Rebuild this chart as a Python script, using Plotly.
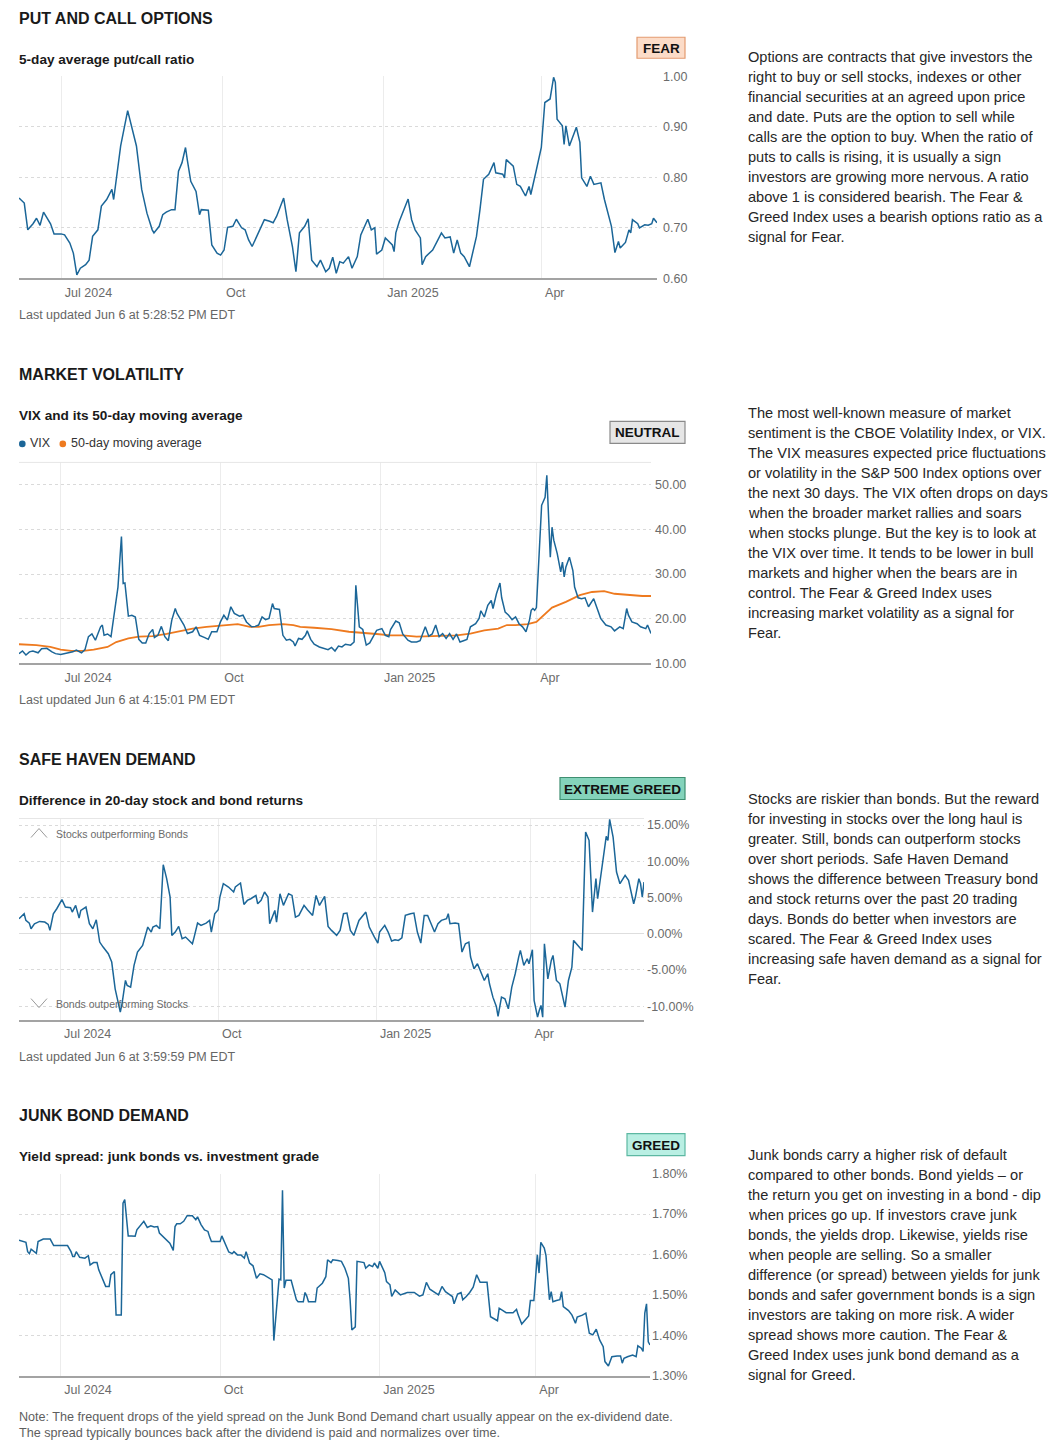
import plotly.graph_objects as go

W, H = 1057, 1451
FONT = "Liberation Sans, Arial, Helvetica, sans-serif"
BLUE = "#1b6698"
ORANGE = "#ee7a1f"

# ---------------- DATA ----------------
tick_dates = ["2024-07-01", "2024-10-01", "2025-01-01", "2025-04-01"]
tick_labels = ["Jul 2024", "Oct", "Jan 2025", "Apr"]
x_range = ["2024-06-07", "2025-06-06"]

pc_tickvals = [0.6, 0.7, 0.8, 0.9, 1.0]
pc_ticktext = ["0.60", "0.70", "0.80", "0.90", "1.00"]
vix_tickvals = [10, 20, 30, 40, 50]
vix_ticktext = ["10.00", "20.00", "30.00", "40.00", "50.00"]
sh_tickvals = [-10, -5, 0, 5, 10, 15]
sh_ticktext = ["-10.00%", "-5.00%", "0.00%", "5.00%", "10.00%", "15.00%"]
jb_tickvals = [1.3, 1.4, 1.5, 1.6, 1.7, 1.8]
jb_ticktext = ["1.30%", "1.40%", "1.50%", "1.60%", "1.70%", "1.80%"]

put_call = [("2024-06-07",0.759),("2024-06-10",0.749),("2024-06-12",0.696),("2024-06-15",0.708),("2024-06-17",0.719),("2024-06-19",0.705),("2024-06-21",0.731),("2024-06-23",0.719),("2024-06-25",0.708),("2024-06-27",0.688),("2024-07-01",0.688),("2024-07-03",0.686),("2024-07-06",0.670),("2024-07-08",0.650),("2024-07-10",0.607),("2024-07-12",0.620),("2024-07-15",0.627),("2024-07-17",0.636),("2024-07-19",0.683),("2024-07-22",0.696),("2024-07-24",0.743),("2024-07-27",0.756),("2024-07-30",0.776),("2024-07-31",0.756),("2024-08-02",0.809),("2024-08-04",0.862),("2024-08-08",0.932),("2024-08-10",0.902),("2024-08-13",0.862),("2024-08-16",0.776),("2024-08-19",0.729),("2024-08-22",0.696),("2024-08-23",0.690),("2024-08-26",0.703),("2024-08-28",0.726),("2024-08-30",0.731),("2024-09-02",0.736),("2024-09-04",0.736),("2024-09-06",0.812),("2024-09-08",0.829),("2024-09-10",0.859),("2024-09-11",0.835),("2024-09-13",0.792),("2024-09-16",0.772),("2024-09-18",0.726),("2024-09-19",0.736),("2024-09-23",0.735),("2024-09-25",0.666),("2024-09-28",0.650),("2024-09-30",0.646),("2024-10-02",0.656),("2024-10-04",0.701),("2024-10-07",0.703),("2024-10-09",0.717),("2024-10-12",0.700),("2024-10-14",0.696),("2024-10-16",0.676),("2024-10-18",0.663),("2024-10-21",0.686),("2024-10-23",0.700),("2024-10-25",0.716),("2024-10-28",0.713),("2024-10-30",0.710),("2024-11-01",0.723),("2024-11-05",0.759),("2024-11-07",0.716),("2024-11-10",0.663),("2024-11-12",0.613),("2024-11-14",0.690),("2024-11-17",0.703),("2024-11-19",0.718),("2024-11-21",0.636),("2024-11-24",0.623),("2024-11-26",0.636),("2024-11-29",0.613),("2024-12-01",0.620),("2024-12-03",0.642),("2024-12-05",0.610),("2024-12-07",0.633),("2024-12-09",0.630),("2024-12-12",0.643),("2024-12-14",0.620),("2024-12-17",0.643),("2024-12-19",0.686),("2024-12-21",0.703),("2024-12-23",0.717),("2024-12-25",0.696),("2024-12-27",0.700),("2024-12-28",0.648),("2024-12-31",0.656),("2025-01-02",0.680),("2025-01-06",0.666),("2025-01-07",0.653),("2025-01-08",0.690),("2025-01-10",0.713),("2025-01-13",0.739),("2025-01-15",0.757),("2025-01-17",0.716),("2025-01-19",0.696),("2025-01-22",0.680),("2025-01-23",0.627),("2025-01-25",0.643),("2025-01-27",0.650),("2025-01-29",0.656),("2025-02-01",0.676),("2025-02-03",0.690),("2025-02-05",0.680),("2025-02-08",0.682),("2025-02-10",0.650),("2025-02-12",0.676),("2025-02-14",0.650),("2025-02-16",0.643),("2025-02-19",0.623),("2025-02-21",0.650),("2025-02-23",0.683),("2025-02-25",0.736),("2025-02-27",0.796),("2025-03-02",0.806),("2025-03-05",0.829),("2025-03-06",0.809),("2025-03-10",0.806),("2025-03-11",0.799),("2025-03-12",0.835),("2025-03-16",0.822),("2025-03-18",0.786),("2025-03-20",0.782),("2025-03-23",0.763),("2025-03-25",0.782),("2025-03-26",0.766),("2025-03-29",0.812),("2025-04-01",0.859),("2025-04-03",0.948),("2025-04-06",0.955),("2025-04-08",0.998),("2025-04-09",0.988),("2025-04-10",0.915),("2025-04-13",0.902),("2025-04-14",0.865),("2025-04-15",0.902),("2025-04-17",0.862),("2025-04-21",0.899),("2025-04-23",0.869),("2025-04-24",0.799),("2025-04-27",0.782),("2025-04-29",0.802),("2025-05-01",0.786),("2025-05-05",0.789),("2025-05-07",0.756),("2025-05-09",0.729),("2025-05-11",0.703),("2025-05-13",0.651),("2025-05-15",0.673),("2025-05-16",0.660),("2025-05-19",0.671),("2025-05-21",0.696),("2025-05-22",0.690),("2025-05-23",0.716),("2025-05-26",0.708),("2025-05-27",0.700),("2025-05-30",0.706),("2025-06-01",0.705),("2025-06-03",0.708),("2025-06-04",0.719),("2025-06-06",0.710)]

vix = [("2024-06-07",12.2),("2024-06-09",12.8),("2024-06-11",11.9),("2024-06-13",12.6),("2024-06-15",12.8),("2024-06-18",12.4),("2024-06-20",13.3),("2024-06-23",13.4),("2024-06-26",12.6),("2024-06-28",12.2),("2024-07-01",12.0),("2024-07-05",12.4),("2024-07-08",12.6),("2024-07-10",13.0),("2024-07-13",12.4),("2024-07-15",13.1),("2024-07-17",16.0),("2024-07-19",16.6),("2024-07-21",15.2),("2024-07-24",18.2),("2024-07-25",18.6),("2024-07-26",16.3),("2024-07-28",16.6),("2024-07-30",16.0),("2024-08-01",21.2),("2024-08-03",27.1),("2024-08-05",38.4),("2024-08-06",27.9),("2024-08-07",28.0),("2024-08-09",20.6),("2024-08-11",20.8),("2024-08-13",20.4),("2024-08-15",15.4),("2024-08-17",14.6),("2024-08-19",14.6),("2024-08-21",16.7),("2024-08-23",17.6),("2024-08-24",15.8),("2024-08-26",16.3),("2024-08-28",18.3),("2024-08-30",16.0),("2024-09-01",15.1),("2024-09-03",19.7),("2024-09-05",22.3),("2024-09-06",21.2),("2024-09-08",19.8),("2024-09-10",18.6),("2024-09-12",16.7),("2024-09-15",17.1),("2024-09-17",18.2),("2024-09-19",16.3),("2024-09-22",15.8),("2024-09-24",15.4),("2024-09-26",17.1),("2024-09-29",17.1),("2024-10-01",19.3),("2024-10-03",20.8),("2024-10-05",19.7),("2024-10-07",22.7),("2024-10-09",21.2),("2024-10-12",20.6),("2024-10-14",20.8),("2024-10-16",19.3),("2024-10-19",18.2),("2024-10-21",18.3),("2024-10-23",18.6),("2024-10-25",20.4),("2024-10-27",19.8),("2024-10-29",20.1),("2024-10-31",23.4),("2024-11-01",22.3),("2024-11-04",22.1),("2024-11-06",16.3),("2024-11-08",15.2),("2024-11-10",15.4),("2024-11-12",14.8),("2024-11-13",13.9),("2024-11-15",15.6),("2024-11-17",15.4),("2024-11-19",16.3),("2024-11-20",17.3),("2024-11-22",15.4),("2024-11-24",14.3),("2024-11-27",13.7),("2024-11-29",13.4),("2024-12-02",13.1),("2024-12-04",13.6),("2024-12-06",12.8),("2024-12-08",13.9),("2024-12-10",13.7),("2024-12-12",14.3),("2024-12-15",14.1),("2024-12-17",14.8),("2024-12-18",27.5),("2024-12-20",18.2),("2024-12-22",17.6),("2024-12-24",14.1),("2024-12-26",14.6),("2024-12-28",16.0),("2024-12-30",17.4),("2025-01-02",17.8),("2025-01-04",16.3),("2025-01-06",16.0),("2025-01-07",17.6),("2025-01-10",19.5),("2025-01-12",19.1),("2025-01-14",16.6),("2025-01-17",15.2),("2025-01-19",14.8),("2025-01-22",14.8),("2025-01-24",15.1),("2025-01-27",18.2),("2025-01-29",16.1),("2025-01-31",16.6),("2025-02-02",18.6),("2025-02-04",16.0),("2025-02-06",16.7),("2025-02-08",15.6),("2025-02-10",16.7),("2025-02-12",15.4),("2025-02-14",16.6),("2025-02-16",14.8),("2025-02-18",15.1),("2025-02-20",15.4),("2025-02-22",18.2),("2025-02-25",18.9),("2025-02-27",20.1),("2025-02-28",21.8),("2025-03-02",20.4),("2025-03-04",23.0),("2025-03-06",24.1),("2025-03-07",22.3),("2025-03-09",25.6),("2025-03-11",28.0),("2025-03-12",24.7),("2025-03-14",21.5),("2025-03-16",20.8),("2025-03-18",19.8),("2025-03-20",20.4),("2025-03-22",18.9),("2025-03-24",18.2),("2025-03-26",17.1),("2025-03-28",19.7),("2025-03-29",21.9),("2025-03-30",22.3),("2025-03-31",21.9),("2025-04-01",22.5),("2025-04-04",45.4),("2025-04-06",47.2),("2025-04-07",52.1),("2025-04-09",33.8),("2025-04-10",40.5),("2025-04-11",37.6),("2025-04-13",34.6),("2025-04-15",30.5),("2025-04-16",32.7),("2025-04-17",29.4),("2025-04-18",31.6),("2025-04-20",33.8),("2025-04-22",30.8),("2025-04-23",27.1),("2025-04-25",24.7),("2025-04-27",24.5),("2025-04-29",24.7),("2025-05-01",22.7),("2025-05-04",24.5),("2025-05-06",22.3),("2025-05-08",20.1),("2025-05-11",18.6),("2025-05-14",18.2),("2025-05-16",17.3),("2025-05-19",18.2),("2025-05-21",17.8),("2025-05-23",22.3),("2025-05-24",20.8),("2025-05-26",19.3),("2025-05-29",18.9),("2025-05-31",18.2),("2025-06-03",17.8),("2025-06-04",18.6),("2025-06-06",16.7)]

vix_ma50 = [("2024-06-07",14.3),("2024-06-17",14.1),("2024-06-25",13.7),("2024-07-01",13.1),("2024-07-07",12.8),("2024-07-14",12.8),("2024-07-20",13.1),("2024-07-28",13.7),("2024-08-02",14.8),("2024-08-09",15.6),("2024-08-15",16.0),("2024-08-23",16.1),("2024-08-31",16.6),("2024-09-08",17.3),("2024-09-15",17.8),("2024-09-23",18.2),("2024-10-01",18.4),("2024-10-11",18.8),("2024-10-18",18.2),("2024-10-23",18.2),("2024-10-29",18.6),("2024-11-06",18.8),("2024-11-12",18.6),("2024-11-16",18.2),("2024-11-24",18.0),("2024-12-04",17.7),("2024-12-14",17.1),("2024-12-22",16.9),("2024-12-30",16.6),("2025-01-07",16.3),("2025-01-14",16.3),("2025-01-22",16.0),("2025-01-30",16.1),("2025-02-07",16.2),("2025-02-14",16.3),("2025-02-22",16.7),("2025-03-02",17.4),("2025-03-10",17.8),("2025-03-15",18.6),("2025-03-20",18.6),("2025-03-27",18.8),("2025-04-01",19.3),("2025-04-05",20.8),("2025-04-10",22.5),("2025-04-18",23.8),("2025-04-26",25.3),("2025-05-03",26.0),("2025-05-10",26.2),("2025-05-16",25.6),("2025-05-24",25.3),("2025-06-01",25.1),("2025-06-06",25.1)]

safe_haven = [("2024-06-07",2.07),("2024-06-10",2.76),("2024-06-11",1.84),("2024-06-13",1.47),("2024-06-14",0.69),("2024-06-16",1.38),("2024-06-19",1.70),("2024-06-22",1.61),("2024-06-24",1.29),("2024-06-25",0.46),("2024-06-27",2.76),("2024-06-29",3.45),("2024-07-02",4.70),("2024-07-04",3.68),("2024-07-07",3.59),("2024-07-08",2.99),("2024-07-10",3.91),("2024-07-12",2.16),("2024-07-13",3.22),("2024-07-16",3.68),("2024-07-18",1.38),("2024-07-20",0.69),("2024-07-22",1.93),("2024-07-24",-1.15),("2024-07-26",-1.84),("2024-07-29",-2.76),("2024-07-31",-3.91),("2024-08-02",-7.60),("2024-08-05",-10.82),("2024-08-06",-9.67),("2024-08-08",-6.45),("2024-08-09",-7.14),("2024-08-11",-7.37),("2024-08-13",-4.37),("2024-08-15",-2.53),("2024-08-18",-1.61),("2024-08-21",0.92),("2024-08-23",0.23),("2024-08-24",0.92),("2024-08-26",1.15),("2024-08-28",0.69),("2024-08-30",9.53),("2024-09-01",7.60),("2024-09-03",5.06),("2024-09-04",-0.23),("2024-09-06",0.23),("2024-09-08",1.01),("2024-09-10",-0.69),("2024-09-12",-0.46),("2024-09-14",-0.92),("2024-09-16",-1.38),("2024-09-17",-0.46),("2024-09-19",1.47),("2024-09-21",1.15),("2024-09-24",1.47),("2024-09-26",1.84),("2024-09-27",0.23),("2024-09-29",2.76),("2024-10-01",3.31),("2024-10-02",5.06),("2024-10-04",6.91),("2024-10-07",6.45),("2024-10-10",5.76),("2024-10-11",6.45),("2024-10-14",7.00),("2024-10-16",4.05),("2024-10-18",4.60),("2024-10-20",4.83),("2024-10-23",5.29),("2024-10-24",4.14),("2024-10-26",4.60),("2024-10-28",5.76),("2024-10-30",5.06),("2024-10-31",1.38),("2024-11-03",3.22),("2024-11-04",1.61),("2024-11-06",5.52),("2024-11-08",3.91),("2024-11-11",5.52),("2024-11-13",5.29),("2024-11-15",2.30),("2024-11-17",2.53),("2024-11-20",3.91),("2024-11-22",3.31),("2024-11-25",2.53),("2024-11-27",5.29),("2024-11-29",3.91),("2024-12-02",5.15),("2024-12-04",1.01),("2024-12-06",0.46),("2024-12-09",-0.23),("2024-12-11",0.46),("2024-12-13",2.76),("2024-12-15",2.85),("2024-12-17",0.46),("2024-12-19",-0.23),("2024-12-22",1.84),("2024-12-26",2.99),("2024-12-28",0.92),("2024-12-31",-0.46),("2025-01-02",-1.29),("2025-01-03",0.23),("2025-01-06",1.15),("2025-01-08",0.23),("2025-01-10",-1.01),("2025-01-12",-0.83),("2025-01-14",-0.92),("2025-01-16",-0.55),("2025-01-18",2.53),("2025-01-21",2.76),("2025-01-23",2.85),("2025-01-25",0.23),("2025-01-27",-1.29),("2025-01-29",2.53),("2025-01-31",2.53),("2025-02-02",1.38),("2025-02-04",0.23),("2025-02-06",1.38),("2025-02-08",1.84),("2025-02-11",2.07),("2025-02-12",2.76),("2025-02-13",1.38),("2025-02-16",1.47),("2025-02-18",1.38),("2025-02-20",-2.53),("2025-02-22",-1.38),("2025-02-24",-1.15),("2025-02-25",-3.22),("2025-02-27",-4.83),("2025-03-01",-4.14),("2025-03-03",-5.29),("2025-03-05",-6.45),("2025-03-07",-5.52),("2025-03-08",-6.91),("2025-03-10",-8.75),("2025-03-12",-10.04),("2025-03-13",-11.42),("2025-03-15",-8.75),("2025-03-17",-8.98),("2025-03-19",-10.36),("2025-03-21",-7.37),("2025-03-23",-5.52),("2025-03-25",-3.22),("2025-03-26",-2.30),("2025-03-28",-4.37),("2025-03-30",-3.45),("2025-03-31",-4.14),("2025-04-02",-2.21),("2025-04-03",-9.21),("2025-04-05",-11.51),("2025-04-06",-10.59),("2025-04-07",-9.90),("2025-04-08",-11.51),("2025-04-09",-1.38),("2025-04-11",-6.22),("2025-04-13",-3.68),("2025-04-14",-2.99),("2025-04-16",-6.45),("2025-04-18",-6.91),("2025-04-21",-10.13),("2025-04-23",-6.45),("2025-04-25",-4.60),("2025-04-26",-0.92),("2025-04-29",-1.84),("2025-05-01",-2.30),("2025-05-03",14.04),("2025-05-05",12.89),("2025-05-07",2.99),("2025-05-09",7.60),("2025-05-10",4.83),("2025-05-13",9.67),("2025-05-15",13.44),("2025-05-16",12.89),("2025-05-17",15.79),("2025-05-19",13.35),("2025-05-21",8.52),("2025-05-23",6.91),("2025-05-26",8.06),("2025-05-28",7.37),("2025-05-31",4.14),("2025-06-01",5.06),("2025-06-03",7.60),("2025-06-04",6.91),("2025-06-05",5.06),("2025-06-06",7.14)]

junk_spread = [("2024-06-07",1.635),("2024-06-10",1.632),("2024-06-11",1.630),("2024-06-12",1.607),("2024-06-13",1.602),("2024-06-14",1.613),("2024-06-16",1.607),("2024-06-17",1.603),("2024-06-18",1.632),("2024-06-21",1.638),("2024-06-25",1.638),("2024-06-27",1.622),("2024-07-01",1.622),("2024-07-05",1.622),("2024-07-07",1.607),("2024-07-08",1.595),("2024-07-09",1.595),("2024-07-10",1.607),("2024-07-12",1.593),("2024-07-15",1.591),("2024-07-17",1.597),("2024-07-18",1.574),("2024-07-20",1.580),("2024-07-22",1.580),("2024-07-23",1.562),("2024-07-25",1.539),("2024-07-27",1.521),("2024-07-29",1.521),("2024-07-30",1.550),("2024-08-01",1.558),("2024-08-02",1.450),("2024-08-05",1.450),("2024-08-06",1.727),("2024-08-07",1.736),("2024-08-09",1.646),("2024-08-11",1.646),("2024-08-13",1.645),("2024-08-14",1.661),("2024-08-16",1.671),("2024-08-18",1.682),("2024-08-20",1.667),("2024-08-22",1.671),("2024-08-24",1.668),("2024-08-26",1.669),("2024-08-27",1.653),("2024-08-29",1.645),("2024-08-31",1.636),("2024-09-02",1.628),("2024-09-04",1.610),("2024-09-05",1.669),("2024-09-06",1.676),("2024-09-08",1.676),("2024-09-10",1.682),("2024-09-12",1.696),("2024-09-15",1.696),("2024-09-17",1.686),("2024-09-18",1.693),("2024-09-20",1.674),("2024-09-22",1.661),("2024-09-24",1.657),("2024-09-25",1.643),("2024-09-26",1.632),("2024-09-28",1.632),("2024-10-01",1.632),("2024-10-02",1.646),("2024-10-04",1.628),("2024-10-06",1.606),("2024-10-08",1.602),("2024-10-09",1.607),("2024-10-11",1.599),("2024-10-13",1.599),("2024-10-15",1.591),("2024-10-16",1.607),("2024-10-18",1.579),("2024-10-20",1.572),("2024-10-22",1.541),("2024-10-24",1.552),("2024-10-26",1.550),("2024-10-29",1.541),("2024-10-31",1.537),("2024-11-01",1.387),("2024-11-04",1.539),("2024-11-05",1.537),("2024-11-06",1.759),("2024-11-07",1.517),("2024-11-08",1.536),("2024-11-11",1.536),("2024-11-14",1.488),("2024-11-15",1.483),("2024-11-18",1.483),("2024-11-19",1.506),("2024-11-20",1.497),("2024-11-21",1.483),("2024-11-25",1.483),("2024-11-26",1.517),("2024-11-29",1.529),("2024-12-01",1.545),("2024-12-02",1.587),("2024-12-04",1.580),("2024-12-05",1.587),("2024-12-08",1.585),("2024-12-10",1.583),("2024-12-12",1.566),("2024-12-14",1.541),("2024-12-15",1.488),("2024-12-16",1.413),("2024-12-18",1.421),("2024-12-19",1.583),("2024-12-23",1.580),("2024-12-24",1.566),("2024-12-26",1.574),("2024-12-28",1.570),("2024-12-29",1.579),("2024-12-31",1.566),("2025-01-01",1.583),("2025-01-04",1.555),("2025-01-05",1.533),("2025-01-07",1.525),("2025-01-08",1.496),("2025-01-10",1.512),("2025-01-13",1.500),("2025-01-17",1.506),("2025-01-21",1.506),("2025-01-24",1.497),("2025-01-26",1.500),("2025-01-28",1.531),("2025-01-30",1.514),("2025-02-01",1.508),("2025-02-04",1.500),("2025-02-06",1.521),("2025-02-08",1.508),("2025-02-10",1.502),("2025-02-12",1.496),("2025-02-13",1.478),("2025-02-15",1.502),("2025-02-17",1.506),("2025-02-18",1.488),("2025-02-20",1.496),("2025-02-22",1.506),("2025-02-24",1.519),("2025-02-26",1.550),("2025-02-28",1.531),("2025-03-04",1.531),("2025-03-06",1.446),("2025-03-08",1.442),("2025-03-10",1.436),("2025-03-11",1.467),("2025-03-15",1.456),("2025-03-19",1.456),("2025-03-21",1.464),("2025-03-22",1.450),("2025-03-24",1.428),("2025-03-26",1.438),("2025-03-28",1.448),("2025-03-29",1.486),("2025-03-31",1.486),("2025-04-02",1.599),("2025-04-03",1.554),("2025-04-04",1.630),("2025-04-06",1.616),("2025-04-07",1.597),("2025-04-09",1.488),("2025-04-10",1.508),("2025-04-11",1.483),("2025-04-13",1.486),("2025-04-15",1.488),("2025-04-16",1.508),("2025-04-17",1.471),("2025-04-20",1.461),("2025-04-22",1.450),("2025-04-24",1.430),("2025-04-25",1.445),("2025-04-28",1.450),("2025-04-30",1.455),("2025-05-02",1.405),("2025-05-04",1.401),("2025-05-06",1.415),("2025-05-08",1.388),("2025-05-10",1.372),("2025-05-11",1.335),("2025-05-13",1.324),("2025-05-15",1.347),("2025-05-18",1.349),("2025-05-20",1.349),("2025-05-21",1.331),("2025-05-22",1.343),("2025-05-24",1.347),("2025-05-27",1.351),("2025-05-29",1.347),("2025-05-30",1.374),("2025-06-01",1.368),("2025-06-02",1.360),("2025-06-03",1.455),("2025-06-04",1.478),("2025-06-05",1.384),("2025-06-06",1.376)]

titles = ["PUT AND CALL OPTIONS", "MARKET VOLATILITY", "SAFE HAVEN DEMAND", "JUNK BOND DEMAND"]
subtitles = ["5-day average put/call ratio", "VIX and its 50-day moving average",
             "Difference in 20-day stock and bond returns", "Yield spread: junk bonds vs. investment grade"]
badges = ["FEAR", "NEUTRAL", "EXTREME GREED", "GREED"]
updated = ["Last updated Jun 6 at 5:28:52 PM EDT", "Last updated Jun 6 at 4:15:01 PM EDT",
           "Last updated Jun 6 at 3:59:59 PM EDT", None]
legend_names = ["VIX", "50-day moving average"]
note_lines = ["Note: The frequent drops of the yield spread on the Junk Bond Demand chart usually appear on the ex-dividend date.",
              "The spread typically bounces back after the dividend is paid and normalizes over time."]

para_options = ["Options are contracts that give investors the", "right to buy or sell stocks, indexes or other",
    "financial securities at an agreed upon price", "and date. Puts are the option to sell while",
    "calls are the option to buy. When the ratio of", "puts to calls is rising, it is usually a sign",
    "investors are growing more nervous. A ratio", "above 1 is considered bearish. The Fear &",
    "Greed Index uses a bearish options ratio as a", "signal for Fear."]
para_vix = ["The most well-known measure of market", "sentiment is the CBOE Volatility Index, or VIX.",
    "The VIX measures expected price fluctuations", "or volatility in the S&P 500 Index options over",
    "the next 30 days. The VIX often drops on days", "when the broader market rallies and soars",
    "when stocks plunge. But the key is to look at", "the VIX over time. It tends to be lower in bull",
    "markets and higher when the bears are in", "control. The Fear & Greed Index uses",
    "increasing market volatility as a signal for", "Fear."]
para_safe = ["Stocks are riskier than bonds. But the reward", "for investing in stocks over the long haul is",
    "greater. Still, bonds can outperform stocks", "over short periods. Safe Haven Demand",
    "shows the difference between Treasury bond", "and stock returns over the past 20 trading",
    "days. Bonds do better when investors are", "scared. The Fear & Greed Index uses",
    "increasing safe haven demand as a signal for", "Fear."]
para_junk = ["Junk bonds carry a higher risk of default", "compared to other bonds. Bond yields \u2013 or",
    "the return you get on investing in a bond - dip", "when prices go up. If investors crave junk",
    "bonds, the yields drop. Likewise, yields rise", "when people are selling. So a smaller",
    "difference (or spread) between yields for junk", "bonds and safer government bonds is a sign",
    "investors are taking on more risk. A wider", "spread shows more caution. The Fear &",
    "Greed Index uses junk bond demand as a", "signal for Greed."]
paragraphs = [para_options, para_vix, para_safe, para_junk]

# ---------------- LAYOUT GEOMETRY (pixels) ----------------
# the page photo maps layout y to about 6.76 + 0.990*y, so vertical positions are compensated
Y_OFF, Y_SCALE = 6.76, 0.990

def fx(p):
    return p / W

def fy(p):
    return 1 - ((p - Y_OFF) / Y_SCALE) / H

panels = [
    dict(l=19, r=657, t=76, b=278, yr=[0.6, 1.0], tv=pc_tickvals, tt=pc_ticktext, so=5,
         title_y=18, sub_y=59, badge=(637, 685, 37, 58, "#fcdcc8", "#e39b70"), upd_y=315, para_y=57),
    dict(l=19, r=651, t=462, b=663, yr=[10, 55], tv=vix_tickvals, tt=vix_ticktext, so=3,
         title_y=374, sub_y=415, badge=(610, 685, 421, 443, "#e6e6e6", "#8a8a8a"), upd_y=700, para_y=413),
    dict(l=19, r=644, t=818, b=1019, yr=[-11.85, 15.9], tv=sh_tickvals, tt=sh_ticktext, so=2,
         title_y=759, sub_y=800, badge=(560, 685, 777, 799, "#84d3bb", "#3f8f71"), upd_y=1056, para_y=798),
    dict(l=19, r=650, t=1173, b=1375, yr=[1.3, 1.8], tv=jb_tickvals, tt=jb_ticktext, so=1,
         title_y=1115, sub_y=1156, badge=(627, 685, 1133, 1155, "#b9efe3", "#5db8a2"), upd_y=None, para_y=1154),
]

fig = go.Figure()

series = [
    (1, put_call, BLUE, 1.5),
    (2, vix_ma50, ORANGE, 1.8),
    (2, vix, BLUE, 1.5),
    (3, safe_haven, BLUE, 1.5),
    (4, junk_spread, BLUE, 1.5),
]
for idx, pts, col, lw in series:
    sfx = "" if idx == 1 else str(idx)
    fig.add_trace(go.Scatter(
        x=[d for d, _ in pts], y=[v for _, v in pts], mode="lines",
        line=dict(color=col, width=lw), xaxis="x" + sfx, yaxis="y" + sfx,
        hoverinfo="skip", showlegend=False))

layout = dict(
    width=W, height=H, margin=dict(l=0, r=0, t=0, b=0),
    paper_bgcolor="white", plot_bgcolor="white",
    font=dict(family=FONT, color="#222"), showlegend=False,
)
annotations = []
shapes = []

def text(x, y, s, size=12, color="#222", bold=False, xanchor="left"):
    annotations.append(dict(
        x=fx(x), y=fy(y), xref="paper", yref="paper", xanchor=xanchor, yanchor="middle",
        text=("<b>%s</b>" % s) if bold else s, showarrow=False, borderpad=0,
        xshift=(-1 if xanchor == "left" else 0),
        font=dict(size=size, color=color, family=FONT)))

for i, p in enumerate(panels, start=1):
    sfx = "" if i == 1 else str(i)
    layout["xaxis" + sfx] = dict(
        domain=[fx(p["l"]), fx(p["r"])], range=x_range, type="date", anchor="y" + sfx,
        tickvals=tick_dates, ticktext=tick_labels, ticklabelposition="outside right",
        ticklabelshift=3, ticks="", showgrid=True, gridcolor="#ececec", gridwidth=1,
        showline=True, linecolor="#a3a3a3", linewidth=1.5, zeroline=False,
        tickfont=dict(size=12.5, color="#6b6b6b"), fixedrange=True, ticklabelstandoff=2)
    layout["yaxis" + sfx] = dict(
        domain=[fy(p["b"]), fy(p["t"])], range=p["yr"], anchor="x" + sfx, side="right",
        tickvals=p["tv"], ticktext=p["tt"], ticks="", showgrid=True, gridcolor="#dadada",
        griddash="dot", gridwidth=1, zeroline=(i == 3), zerolinecolor="#dedede", zerolinewidth=1,
        showline=False, tickfont=dict(size=12.5, color="#6b6b6b"), fixedrange=True,
        ticklabelstandoff=p["so"])

    text(19, p["title_y"], titles[i - 1], size=16, color="#1a1a1a", bold=True)
    text(19, p["sub_y"], subtitles[i - 1], size=13.6, color="#1a1a1a", bold=True)
    bx0, bx1, by0, by1, bfill, bline = p["badge"]
    shapes.append(dict(type="rect", xref="paper", yref="paper", x0=fx(bx0), x1=fx(bx1),
                       y0=fy(by1), y1=fy(by0), fillcolor=bfill, line=dict(color=bline, width=1.2),
                       layer="above"))
    text((bx0 + bx1) / 2, (by0 + by1) / 2 + 0.5, badges[i - 1], size=13.5, color="#111", bold=True,
         xanchor="center")
    if p["upd_y"] is not None:
        text(19, p["upd_y"], updated[i - 1], size=12.5, color="#666")
    for k, line in enumerate(paragraphs[i - 1]):
        text(748, p["para_y"] + 20 * k, line.replace("&", "&amp;"), size=14.6, color="#262626")

# top border lines of panels 2 and 3
for p in (panels[1], panels[2]):
    shapes.append(dict(type="line", xref="paper", yref="paper", x0=fx(p["l"]), x1=fx(p["r"]),
                       y0=fy(p["t"]), y1=fy(p["t"]), line=dict(color="#e6e6e6", width=1)))

# legend for VIX panel: coloured dots + labels
for (cx, col), (tx, name) in zip([(22.3, BLUE), (62.8, ORANGE)], [(30, legend_names[0]), (71, legend_names[1])]):
    shapes.append(dict(type="circle", xref="paper", yref="paper", x0=fx(cx - 3.3), x1=fx(cx + 3.3),
                       y0=fy(446.8), y1=fy(440.2), fillcolor=col, line=dict(width=0)))
    text(tx, 443, name, size=12.5, color="#333")

# safe haven direction hints
shapes.append(dict(type="path", xref="paper", yref="paper",
                   path="M %f,%f L %f,%f L %f,%f" % (fx(31), fy(837), fx(39), fy(828), fx(47), fy(837)),
                   line=dict(color="#9a9a9a", width=1)))
shapes.append(dict(type="path", xref="paper", yref="paper",
                   path="M %f,%f L %f,%f L %f,%f" % (fx(31), fy(998), fx(39), fy(1007), fx(47), fy(998)),
                   line=dict(color="#9a9a9a", width=1)))
text(56, 833, "Stocks outperforming Bonds", size=10.5, color="#6b6b6b")
text(56, 1003, "Bonds outperforming Stocks", size=10.5, color="#6b6b6b")

for k, line in enumerate(note_lines):
    text(19, 1416 + 16 * k, line, size=12.6, color="#5e5e5e")

layout["annotations"] = annotations
layout["shapes"] = shapes
fig.update_layout(**layout)

fig.write_html("out.html", config={"displayModeBar": False},
               post_script=("document.documentElement.style.margin='0';"
                            "document.documentElement.style.padding='0';"
                            "document.documentElement.style.overflow='hidden';"
                            "document.body.style.margin='0';document.body.style.padding='0';"
                            "document.body.style.overflow='hidden';"))
